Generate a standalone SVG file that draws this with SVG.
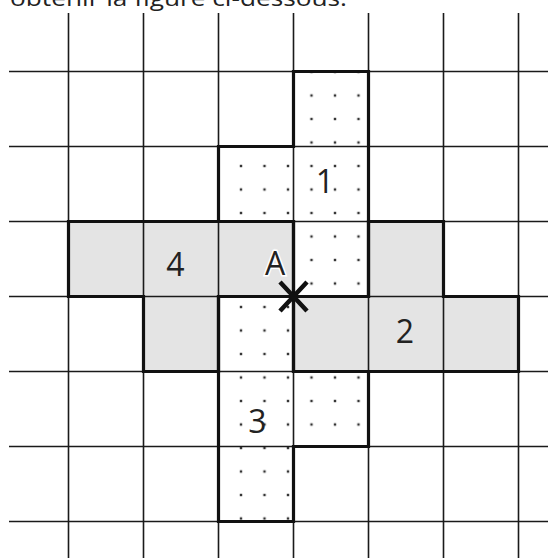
<svg xmlns="http://www.w3.org/2000/svg" width="557" height="558" viewBox="0 0 557 558">
<style>
.grid{stroke:#1a1a1a;stroke-width:1.6;fill:none}
.outline{stroke:#111;stroke-width:3.2;fill:none;stroke-linejoin:miter}
.gray{fill:#e4e4e4}
.dotted{fill:url(#dots)}
.lbl{font-family:"Open Sans","Liberation Sans",sans-serif;font-size:32px;fill:#222;text-anchor:middle}
</style>
<defs>
<pattern id="dots" patternUnits="userSpaceOnUse" x="229.25" y="60.25" width="23.5" height="23.5">
<rect width="23.5" height="23.5" fill="#fff"/>
<rect x="10.55" y="10.55" width="2.4" height="2.4" fill="#333"/>
</pattern>
</defs>
<rect width="557" height="558" fill="#fff"/>
<text x="10" y="6" font-family="'Open Sans','Liberation Sans',sans-serif" font-size="22" fill="#222" textLength="337" lengthAdjust="spacingAndGlyphs">obtenir la figure ci-dessous.</text>
<g id="fills">
<path class="dotted" d="M293.5,71.5H368.5V296.5H293.5V221.5H218.5V146.5H293.5Z"/>
<path class="gray" d="M368.5,221.5H443.5V296.5H518.5V371.5H293.5V296.5H368.5Z"/>
<path class="dotted" d="M218.5,296.5H293.5V371.5H368.5V446.5H293.5V521.5H218.5Z"/>
<path class="gray" d="M68.5,221.5H293.5V296.5H218.5V371.5H143.5V296.5H68.5Z"/>
</g>
<g id="grid" class="grid">
<path d="M68.5,13V558M143.5,13V558M218.5,13V558M293.5,13V558M368.5,13V558M443.5,13V558M518.5,13V558"/>
<path d="M9,71.5H548M9,146.5H548M9,221.5H548M9,296.5H548M9,371.5H548M9,446.5H548M9,521.5H548"/>
</g>
<g id="piece1">
<path class="outline" d="M293.5,71.5H368.5V296.5H293.5V221.5H218.5V146.5H293.5Z"/>
<text class="lbl" x="325" y="193">1</text>
</g>
<g id="piece2">
<path class="outline" d="M368.5,221.5H443.5V296.5H518.5V371.5H293.5V296.5H368.5Z"/>
<text class="lbl" x="405" y="343">2</text>
</g>
<g id="piece3">
<path class="outline" d="M218.5,296.5H293.5V371.5H368.5V446.5H293.5V521.5H218.5Z"/>
<text class="lbl" x="257.5" y="433">3</text>
</g>
<g id="piece4">
<path class="outline" d="M68.5,221.5H293.5V296.5H218.5V371.5H143.5V296.5H68.5Z"/>
<text class="lbl" x="175.5" y="275.5">4</text>
</g>
<g id="pointA">
<text class="lbl" x="275" y="275" stroke="#fff" stroke-width="3" paint-order="stroke">A</text>
<path d="M280,282L307,311M307,282L280,311" stroke="#111" stroke-width="4.5" fill="none"/>
</g>
</svg>
